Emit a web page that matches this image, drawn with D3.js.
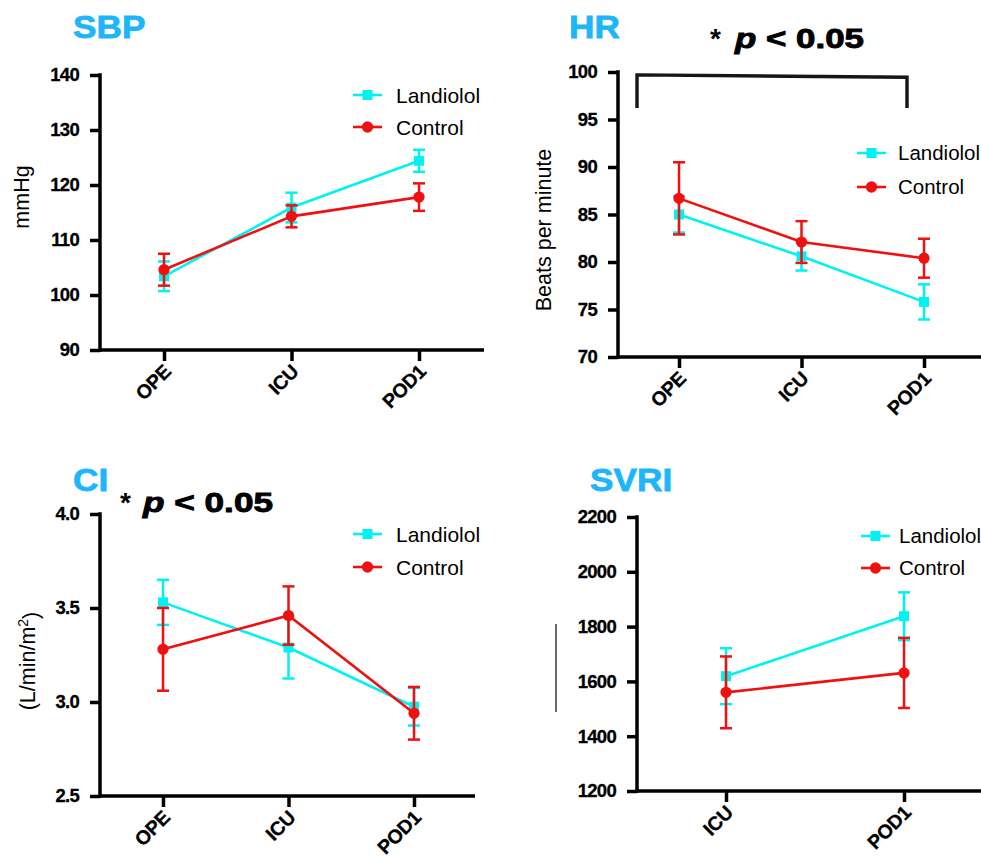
<!DOCTYPE html>
<html><head><meta charset="utf-8">
<script src="https://cdn.jsdelivr.net/npm/d3@7"></script>
<style>
body{margin:0;background:#fff;}
svg{display:block;font-family:"Liberation Sans",Arial,sans-serif;}
</style></head><body>
<svg id="chart" width="981" height="862"></svg>
<script>
// ---------------- data ----------------
const seriesNames = ["Landiolol", "Control"];

const sbpCategories = ["OPE", "ICU", "POD1"];
const sbpLandiolol = [103.4, 115.9, 124.4];
const sbpLandiololSE = [2.7, 2.7, 2.0];
const sbpControl = [104.6, 114.3, 117.8];
const sbpControlSE = [2.9, 2.0, 2.5];
const sbpTicks = [90, 100, 110, 120, 130, 140];

const hrCategories = ["OPE", "ICU", "POD1"];
const hrLandiolol = [85.0, 80.6, 75.8];
const hrLandiololSE = [1.9, 1.5, 1.85];
const hrControl = [86.7, 82.1, 80.4];
const hrControlSE = [3.8, 2.2, 2.05];
const hrTicks = [70, 75, 80, 85, 90, 95, 100];

const ciCategories = ["OPE", "ICU", "POD1"];
const ciLandiolol = [3.53, 3.29, 2.975];
const ciLandiololSE = [0.12, 0.165, 0.1];
const ciControl = [3.28, 3.46, 2.94];
const ciControlSE = [0.22, 0.155, 0.14];
const ciTicks = [2.5, 3.0, 3.5, 4.0];

const svriCategories = ["ICU", "POD1"];
const svriLandiolol = [1619, 1838];
const svriLandiololSE = [102, 87];
const svriControl = [1560, 1631];
const svriControlSE = [131, 128];
const svriTicks = [1200, 1400, 1600, 1800, 2000, 2200];

// ---------------- styles ----------------
const CYAN = "#00f2f2";
const RED = "#f01010";
const TITLE_BLUE = "#1eb6fa";

const svg = d3.select("#chart");
const defs = svg.append("defs");
defs.append("filter").attr("id", "soft")
  .append("feGaussianBlur").attr("stdDeviation", 0.6);

function panel(o) {
  const g = svg.append("g");
  const x = d3.scalePoint().domain(o.categories).range([o.c0, o.c1]);
  const y = d3.scaleLinear()
    .domain([o.ticks[0], o.ticks[o.ticks.length - 1]])
    .range([o.bottom, o.top]);

  // y axis
  const ya = g.append("g").attr("transform", `translate(${o.left},0)`)
    .call(d3.axisLeft(y).tickValues(o.ticks).tickFormat(o.fmt || d3.format("d"))
      .tickSize(10).tickPadding(11));
  ya.select(".domain").remove();
  ya.selectAll(".tick line").attr("stroke", "#000").attr("stroke-width", 3.5);
  ya.selectAll(".tick text").attr("fill", "#000").attr("stroke", "#000").attr("stroke-width", 0.3)
    .style("font-size", "18.5px").style("font-weight", "bold").style("letter-spacing", "-0.7px");

  // x axis
  const xa = g.append("g").attr("transform", `translate(0,${o.bottom})`)
    .call(d3.axisBottom(x).tickSize(11));
  xa.select(".domain").remove();
  xa.selectAll(".tick line").attr("stroke", "#000").attr("stroke-width", 3.5);
  xa.selectAll(".tick text").attr("fill", "#000").attr("stroke", "#000").attr("stroke-width", 0.3)
    .style("font-size", "19.5px").style("font-weight", "bold").style("letter-spacing", "-0.3px")
    .attr("text-anchor", "end").attr("x", 0).attr("y", 0).attr("dy", "0.35em")
    .attr("transform", "translate(3,18) rotate(-45)");

  // axis lines
  g.append("line").attr("x1", o.left).attr("x2", o.left)
    .attr("y1", o.top - 1.75).attr("y2", o.bottom + 1.75)
    .attr("stroke", "#000").attr("stroke-width", 3.5);
  g.append("line").attr("x1", o.left).attr("x2", o.right)
    .attr("y1", o.bottom).attr("y2", o.bottom)
    .attr("stroke", "#000").attr("stroke-width", 3.5);

  // series
  const series = [
    { vals: o.land, se: o.landSE, color: CYAN, sym: d3.symbolSquare, size: 100 },
    { vals: o.ctrl, se: o.ctrlSE, color: RED, sym: d3.symbolCircle, size: 100 }
  ];
  const line = d3.line().x(d => x(d.c)).y(d => y(d.v));
  series.forEach(s => {
    const pts = o.categories.map((c, i) => ({ c, v: s.vals[i], e: s.se[i] }));
    const sg = g.append("g");
    sg.append("path").datum(pts).attr("d", line)
      .attr("fill", "none").attr("stroke", s.color).attr("stroke-width", 2.6);
    pts.forEach(p => {
      const cx = x(p.c);
      sg.append("line").attr("x1", cx).attr("x2", cx)
        .attr("y1", y(p.v + p.e)).attr("y2", y(p.v - p.e))
        .attr("stroke", s.color).attr("stroke-width", 2.5);
      [p.v + p.e, p.v - p.e].forEach(v => {
        sg.append("line").attr("x1", cx - 6).attr("x2", cx + 6)
          .attr("y1", y(v)).attr("y2", y(v))
          .attr("stroke", s.color).attr("stroke-width", 2.5);
      });
      sg.append("path").attr("d", d3.symbol().type(s.sym).size(s.size)())
        .attr("transform", `translate(${cx},${y(p.v)})`).attr("fill", s.color);
    });
  });

  // legend
  series.forEach((s, i) => {
    const ly = o.legY[i];
    g.append("line").attr("x1", o.legX).attr("x2", o.legX + 29)
      .attr("y1", ly).attr("y2", ly).attr("stroke", s.color).attr("stroke-width", 2.6);
    g.append("path").attr("d", d3.symbol().type(s.sym).size(s.size)())
      .attr("transform", `translate(${o.legX + 14.5},${ly})`).attr("fill", s.color);
    g.append("text").attr("x", o.legX + o.legGap).attr("y", ly).attr("dy", "0.36em")
      .style("font-size", o.legFont + "px").attr("fill", "#000").text(seriesNames[i]);
  });

  // title
  const t = g.append("text").attr("x", o.titleX).attr("y", o.titleY)
    .attr("fill", TITLE_BLUE).attr("stroke", TITLE_BLUE).attr("stroke-width", 0.8)
    .style("font-size", "32px").style("font-weight", "bold").text(o.title);
  t.attr("textLength", t.node().getComputedTextLength() * 1.1).attr("lengthAdjust", "spacingAndGlyphs");

  return { g, x, y };
}

function yLabel(g, x, y, build) {
  const t = g.append("text").attr("transform", `translate(${x},${y}) rotate(-90)`)
    .attr("text-anchor", "middle").attr("dy", "0.35em")
    .style("font-size", "21.5px").attr("fill", "#000");
  build(t);
}

function pText(g, starX, px, base, width) {
  g.append("text").attr("x", starX).attr("y", base)
    .style("font-size", "28px").style("font-weight", "bold").attr("fill", "#000").text("*");
  const t = g.append("text").attr("x", px).attr("y", base)
    .style("font-size", "28px").style("font-weight", "bold").attr("fill", "#000")
    .attr("stroke", "#000").attr("stroke-width", 0.9);
  t.append("tspan").style("font-style", "italic").text("p");
  t.append("tspan").text(" < 0.05");
  t.attr("textLength", width).attr("lengthAdjust", "spacingAndGlyphs");
}

function bracket(g, pts) {
  g.append("path").attr("d", d3.line()(pts)).attr("fill", "none")
    .attr("stroke", "#161616").attr("stroke-width", 3.4).attr("filter", "url(#soft)");
}

// ---------------- SBP ----------------
const sbp = panel({
  categories: sbpCategories, land: sbpLandiolol, landSE: sbpLandiololSE,
  ctrl: sbpControl, ctrlSE: sbpControlSE, ticks: sbpTicks,
  left: 100, right: 484, top: 75, bottom: 350, c0: 164, c1: 419,
  legX: 353, legY: [95, 127], legGap: 43, legFont: 21,
  title: "SBP", titleX: 73, titleY: 38
});
yLabel(sbp.g, 21, 197, t => t.text("mmHg"));

// ---------------- HR ----------------
const hr = panel({
  categories: hrCategories, land: hrLandiolol, landSE: hrLandiololSE,
  ctrl: hrControl, ctrlSE: hrControlSE, ticks: hrTicks,
  left: 618, right: 981, top: 72, bottom: 357, c0: 679, c1: 924,
  legX: 857, legY: [153, 187], legGap: 41, legFont: 20.5,
  title: "HR", titleX: 569, titleY: 38
});
yLabel(hr.g, 543, 230, t => t.text("Beats per minute"));
bracket(hr.g, [
  [hr.x("OPE") - 42, hr.y(96.2)], [hr.x("OPE") - 42, hr.y(99.7)],
  [hr.x("POD1") - 17, hr.y(99.45)], [hr.x("POD1") - 17, hr.y(96.2)]
]);
pText(hr.g, 710, 735, 48, 129);

// ---------------- CI ----------------
const ci = panel({
  categories: ciCategories, land: ciLandiolol, landSE: ciLandiololSE,
  ctrl: ciControl, ctrlSE: ciControlSE, ticks: ciTicks, fmt: d3.format(".1f"),
  left: 100, right: 475, top: 514, bottom: 796, c0: 163, c1: 414,
  legX: 353, legY: [534, 567], legGap: 43, legFont: 21,
  title: "CI", titleX: 73, titleY: 491
});
yLabel(ci.g, 27, 661, t => {
  t.append("tspan").text("(L/min/m");
  t.append("tspan").attr("dy", "-0.45em").style("font-size", "14px").text("2");
  t.append("tspan").attr("dy", "0.45em").text(")");
});
bracket(ci.g, [[ci.x("OPE") - 13, ci.y(3.879)], [ci.x("ICU"), ci.y(3.879)]]);
bracket(ci.g, [[ci.x("OPE") - 12, ci.y(3.93)], [ci.x("OPE") - 12, ci.y(3.75)]]);
bracket(ci.g, [[ci.x("ICU"), ci.y(3.968)], [ci.x("ICU"), ci.y(3.79)]]);
pText(ci.g, 120, 143, 512, 130);

// ---------------- SVRI ----------------
const svri = panel({
  categories: svriCategories, land: svriLandiolol, landSE: svriLandiololSE,
  ctrl: svriControl, ctrlSE: svriControlSE, ticks: svriTicks,
  left: 637, right: 981, top: 517, bottom: 791, c0: 726, c1: 904,
  legX: 861, legY: [536, 568], legGap: 38, legFont: 20.5,
  title: "SVRI", titleX: 590, titleY: 491
});
svri.g.append("line").attr("x1", 556).attr("x2", 556).attr("y1", 624).attr("y2", 712)
  .attr("stroke", "#444").attr("stroke-width", 1.6);
</script>
</body></html>
